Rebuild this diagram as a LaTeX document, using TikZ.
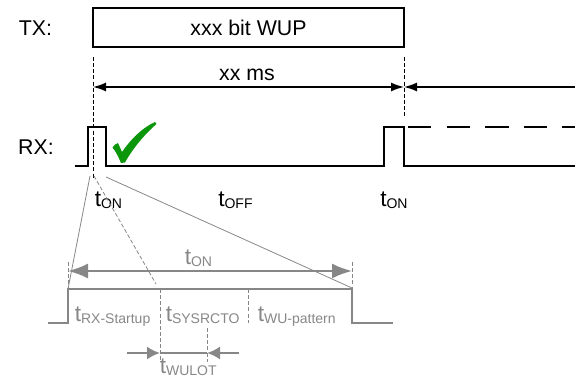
\documentclass[tikz,border=0pt]{standalone}
\usepackage{fontspec}
\setmainfont{Liberation Sans}
\usetikzlibrary{arrows.meta}
\definecolor{ggray}{RGB}{135,135,135}
\definecolor{cgreen}{RGB}{12,150,12}
\newcommand{\tsb}[1]{t\raisebox{-1.3pt}{\fontsize{10.5}{10.5}\selectfont #1}}
\begin{document}
\begin{tikzpicture}[x=0.75pt,y=-0.75pt,
  lbl/.style={inner sep=0pt, font=\fontsize{16}{19}\selectfont},
  tlbl/.style={inner sep=0pt, anchor=base west, font=\fontsize{17}{19}\selectfont},
  glbl/.style={tlbl, text=ggray},
  sig/.style={line width=1.1pt, line join=miter},
  gsig/.style={line width=1.5pt, ggray, line join=miter},
  guide/.style={line width=0.6pt, dash pattern=on 3pt off 1.6pt},
  gguide/.style={line width=0.6pt, ggray, dash pattern=on 3pt off 1.6pt},
  fan/.style={line width=0.6pt, ggray},
  blktip/.style={-{Latex[length=9.75pt,width=6.75pt]}, line width=1.1pt},
  blkboth/.style={{Latex[length=9.75pt,width=6.75pt]}-{Latex[length=9.75pt,width=6.75pt]}, line width=1.1pt},
  gboth/.style={{Latex[length=15pt,width=11.25pt]}-{Latex[length=15pt,width=11.25pt]}, line width=1.5pt, ggray},
  gtip/.style={-{Latex[length=9.75pt,width=9.75pt]}, line width=1.5pt, ggray}
]
\useasboundingbox (0,0) rectangle (575,384);

% labels
\node[lbl] (tx) at (35.5,28.5) {TX:};
\node[lbl] (rx) at (36,147) {RX:};
\node[lbl, draw, line width=1.1pt, minimum width=233.25pt, minimum height=29.25pt] (wup) at (248.5,27.5) {xxx bit WUP};
\node[lbl] (xxms) at (247,75) {xx ms};

% guides
\coordinate (d1t) at (93,57);
\coordinate (d1b) at (93,178);
\coordinate (d2t) at (404,57);
\coordinate (d2b) at (404,117);
\draw[guide] (d1t) -- (d1b);
\draw[guide] (d2t) -- (d2b);

% arrows
\coordinate (a1) at (93,87);
\coordinate (a2) at (404,87);
\coordinate (a3) at (575,87);
\draw[blkboth] (a1) -- (a2);
\draw[blktip] (a3) -- (a2);

% RX signal
\coordinate (r0) at (75,166);
\coordinate (r1) at (88,166);
\coordinate (r2) at (88,127);
\coordinate (r3) at (106,127);
\coordinate (r4) at (106,166);
\coordinate (r5) at (384,166);
\coordinate (r6) at (384,127);
\coordinate (r7) at (404,127);
\coordinate (r8) at (404,166);
\coordinate (r9) at (575,166);
\draw[sig] (r0) -- (r1) -- (r2) -- (r3) -- (r4) -- (r5) -- (r6) -- (r7) -- (r8) -- (r9);
\coordinate (h0) at (408,127);
\coordinate (h1) at (575,127);
\draw[sig, dash pattern=on 17.6pt off 11.3pt] (h0) -- (h1);

% check mark
\fill[cgreen] (112.5,147.5) .. controls (114,145) and (116,143.5) .. (118,143)
  .. controls (119.5,146) and (120.5,149) .. (122,152)
  .. controls (131,139) and (142,128) .. (155,122) -- (156.5,124)
  .. controls (145,134) and (133,148) .. (125,162.5) -- (121,163)
  .. controls (118,156) and (115.5,151) .. (112.5,147.5) -- cycle;

% t labels
\node[tlbl] (ton1) at (94.5,207) {\tsb{ON}};
\node[tlbl] (toff) at (218,207) {\tsb{OFF}};
\node[tlbl] (ton2) at (380,207) {\tsb{ON}};

% lower pulse
\coordinate (l0) at (48,323);
\coordinate (lBL) at (68,323);
\coordinate (lTL) at (68,289);
\coordinate (lTR) at (352,289);
\coordinate (lBR) at (352,323);
\coordinate (l1) at (393,323);
\draw[gsig] (l0) -- (lBL) -- (lTL) -- (lTR) -- (lBR) -- (l1);

% fan lines
\coordinate (f1) at (90,176);
\coordinate (f2) at (94,176);
\coordinate (f2e) at (156,284);
\coordinate (f3) at (106,177);
\coordinate (f3e) at (352,288);
\draw[fan] (f1) -- (lTL);
\draw[fan, dash pattern=on 3pt off 1.6pt] (f2) -- (f2e);
\draw[fan] (f3) -- (f3e);

% ton span
\coordinate (k1t) at (68,262);
\coordinate (k2t) at (352,262);
\draw[gguide] (k1t) -- (lTL);
\draw[gguide] (k2t) -- (lTR);
\coordinate (b1) at (68,271);
\coordinate (b2) at (352,271);
\draw[gboth] (b1) -- (b2);
\node[glbl] (tonl) at (184.5,265) {\tsb{ON}};

% separators
\coordinate (s1t) at (160,289);
\coordinate (s1b) at (160,362);
\coordinate (s2t) at (248,289);
\coordinate (s2b) at (248,323);
\coordinate (s3t) at (207,328);
\coordinate (s3b) at (207,362);
\draw[gguide] (s1t) -- (s1b);
\draw[gguide] (s2t) -- (s2b);
\draw[gguide] (s3t) -- (s3b);

% WULOT arrows
\coordinate (w0) at (127,353);
\coordinate (w1) at (160,353);
\coordinate (w2) at (207,353);
\coordinate (w3) at (239,353);
\draw[gsig] (w1) -- (w2);
\draw[gtip] (w0) -- (w1);
\draw[gtip] (w3) -- (w2);

% lower labels
\node[glbl] (trx) at (74.5,322) {\tsb{RX-Startup}};
\node[glbl] (tsys) at (165.5,322) {\tsb{SYSRCTO}};
\node[glbl] (twu) at (257.5,322) {\tsb{WU-pattern}};
\node[glbl] (twulot) at (159.5,374) {\tsb{WULOT}};
\end{tikzpicture}
\end{document}
